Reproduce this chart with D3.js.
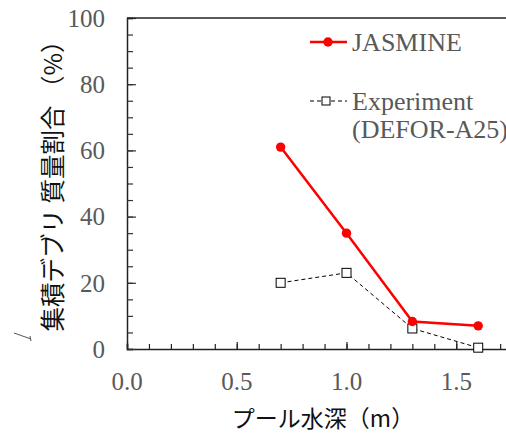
<!DOCTYPE html>
<html>
<head>
<meta charset="utf-8">
<script src="https://cdn.jsdelivr.net/npm/d3@7"></script>
<style>
  body { margin: 0; background: #fff; }
  svg { display: block; }
</style>
</head>
<body>
<div id="chart"></div>
<script>
// data
const depths = [0.7, 1.0, 1.3, 1.6];
const jasmine = [61, 35, 8.3, 7.0];
const experiment = [20, 23, 6.2, 0.4];
const xTickLabels = [0, 0.5, 1.0, 1.5];
const yTickLabels = [0, 20, 40, 60, 80, 100];

const W = 506, H = 434;
const serif = "'Liberation Serif', 'Times New Roman', serif";
const jp = "'Noto Sans CJK JP', sans-serif";
const tickColor = "#595959";

const svg = d3.select("#chart").append("svg")
  .attr("width", W).attr("height", H);

const x = d3.scaleLinear().domain([0, 2]).range([127, 566]);
const y = d3.scaleLinear().domain([0, 100]).range([349, 18]);

// minor ticks (inward)
const xMinor = d3.range(0, 1.75, 0.1).map(v => +v.toFixed(1));
const yMinor = d3.range(0, 101, 5);

const gx = svg.append("g").attr("transform", `translate(0,${y(0)})`);
gx.call(d3.axisBottom(x).tickValues(xMinor).tickSize(-5).tickFormat(""));
gx.append("g").call(d3.axisBottom(x).tickValues(xTickLabels).tickSize(-7).tickFormat(""));
gx.selectAll(".domain").attr("stroke", "#222").attr("stroke-width", 1.5);
gx.selectAll(".tick line").attr("stroke", "#222").attr("stroke-width", 1.2);
gx.selectAll(".domain").filter((d, i) => i > 0).remove();

const gy = svg.append("g").attr("transform", `translate(${x(0)},0)`);
gy.call(d3.axisLeft(y).tickValues(yMinor).tickSize(-6).tickFormat(""));
gy.append("g").call(d3.axisLeft(y).tickValues(yTickLabels).tickSize(-9).tickFormat(""));
gy.selectAll(".domain").attr("stroke", "#222").attr("stroke-width", 1.5);
gy.selectAll(".tick line").attr("stroke", "#333").attr("stroke-width", 1.2);
gy.selectAll("g g .domain").remove();

// top spine
svg.append("line")
  .attr("x1", x(0)).attr("x2", x(2))
  .attr("y1", y(100)).attr("y2", y(100))
  .attr("stroke", "#222").attr("stroke-width", 1.5);

// tick labels
svg.append("g").selectAll("text")
  .data(xTickLabels).enter().append("text")
  .attr("x", d => x(d)).attr("y", 390)
  .attr("text-anchor", "middle")
  .attr("font-family", serif).attr("font-size", 25)
  .attr("fill", tickColor)
  .text(d => d.toFixed(1));

svg.append("g").selectAll("text")
  .data(yTickLabels).enter().append("text")
  .attr("x", 105).attr("y", d => y(d))
  .attr("dy", "0.35em")
  .attr("text-anchor", "end")
  .attr("font-family", serif).attr("font-size", 25)
  .attr("fill", tickColor)
  .text(d => d);

// axis titles
svg.append("text")
  .attr("x", 323).attr("y", 427)
  .attr("text-anchor", "middle")
  .attr("font-family", jp).attr("font-size", 23)
  .attr("fill", "#111")
  .text("プール水深（m）");

svg.append("text")
  .attr("transform", "translate(62,180) rotate(-90)")
  .attr("text-anchor", "middle")
  .attr("font-family", jp).attr("font-size", 24.5)
  .attr("fill", "#111")
  .text("集積デブリ 質量割合 （%）");

// small stray mark left of the y title
svg.append("path")
  .attr("d", "M14,333 L31,339 M30,336 L31,341")
  .attr("fill", "none").attr("stroke", "#555").attr("stroke-width", 1);

const line = d3.line().x(d => x(d[0])).y(d => y(d[1]));
const expPts = depths.map((d, i) => [d, experiment[i]]);
const jasPts = depths.map((d, i) => [d, jasmine[i]]);

// experiment series
svg.append("path").datum(expPts)
  .attr("d", line)
  .attr("fill", "none").attr("stroke", "#000")
  .attr("stroke-width", 1).attr("stroke-dasharray", "4,3");

// jasmine series
svg.append("path").datum(jasPts)
  .attr("d", line)
  .attr("fill", "none").attr("stroke", "#ff0000")
  .attr("stroke-width", 2.5);

svg.append("g").selectAll("rect")
  .data(expPts).enter().append("rect")
  .attr("x", d => x(d[0]) - 4.5).attr("y", d => y(d[1]) - 4.5)
  .attr("width", 9).attr("height", 9)
  .attr("fill", "#fff").attr("stroke", "#000").attr("stroke-width", 1);

svg.append("g").selectAll("circle")
  .data(jasPts).enter().append("circle")
  .attr("cx", d => x(d[0])).attr("cy", d => y(d[1]))
  .attr("r", 4.7).attr("fill", "#ff0000");

// legend
const lg = svg.append("g");
lg.append("line").attr("x1", 310).attr("x2", 347).attr("y1", 42).attr("y2", 42)
  .attr("stroke", "#ff0000").attr("stroke-width", 2.5);
lg.append("circle").attr("cx", 328).attr("cy", 42).attr("r", 4.7).attr("fill", "#ff0000");
lg.append("text").attr("x", 352).attr("y", 51)
  .attr("font-family", serif).attr("font-size", 26).attr("fill", tickColor)
  .text("JASMINE");

lg.append("line").attr("x1", 310).attr("x2", 347).attr("y1", 101).attr("y2", 101)
  .attr("stroke", "#000").attr("stroke-width", 1).attr("stroke-dasharray", "4,3");
lg.append("rect").attr("x", 322).attr("y", 97).attr("width", 8).attr("height", 8)
  .attr("fill", "#fff").attr("stroke", "#000").attr("stroke-width", 1);
lg.append("text").attr("x", 352).attr("y", 110)
  .attr("font-family", serif).attr("font-size", 26).attr("fill", tickColor)
  .text("Experiment");
lg.append("text").attr("x", 352).attr("y", 138)
  .attr("font-family", serif).attr("font-size", 26).attr("fill", tickColor)
  .text("(DEFOR-A25)");
</script>
</body>
</html>
